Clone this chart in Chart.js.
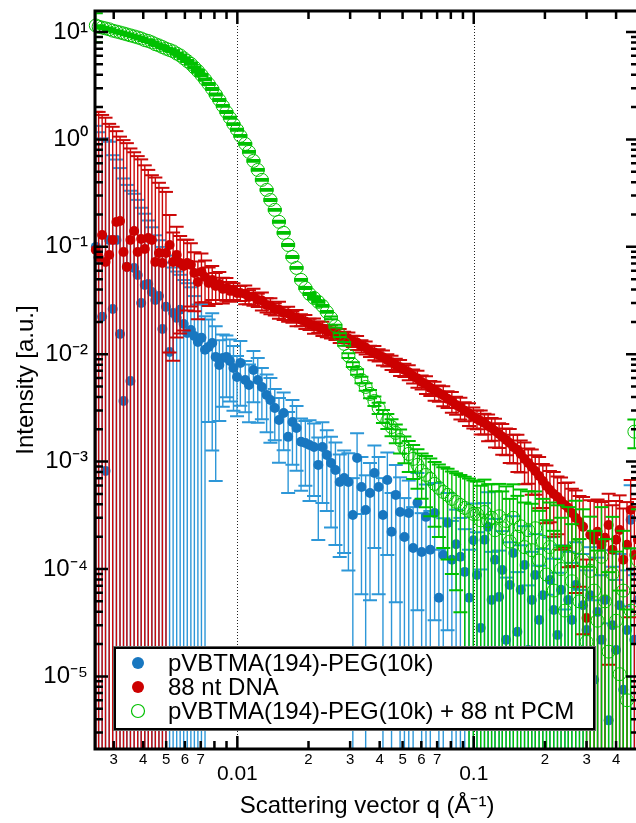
<!DOCTYPE html>
<html><head><meta charset="utf-8">
<script src="https://cdn.jsdelivr.net/npm/chart.js@4"></script>
<style>
html,body{margin:0;padding:0;background:#fff;overflow:hidden;}
#wrap{position:relative;width:636px;height:823px;overflow:hidden;background:#fff;}
canvas{display:block;}
</style></head><body>
<div id="wrap"><canvas id="c" width="650" height="823"></canvas></div>
<script>
// ---------- DATA ----------
const seriesNames = ['pVBTMA(194)-PEG(10k)', '88 nt DNA', 'pVBTMA(194)-PEG(10k) + 88 nt PCM'];

const q = [0.00252,0.00259,0.00268,0.00277,0.00287,0.00297,0.00308,0.00319,0.00330,0.00341,0.00353,0.00366,0.00379,0.00392,0.00406,0.00420,0.00435,0.00450,0.00466,0.00482,0.00499,0.00517,0.00535,0.00554,0.00573,0.00593,0.00614,0.00636,0.00658,0.00681,0.00705,0.00730,0.00756,0.00783,0.00810,0.00839,0.00868,0.00899,0.00930,0.00963,0.00997,
0.0103,0.0108,0.0112,0.0117,0.0122,0.0127,0.0133,0.0138,0.0144,0.0150,0.0157,0.0164,0.0171,0.0178,0.0186,0.0194,0.0202,0.0211,0.0220,0.0229,0.0239,0.0249,0.0260,0.0271,0.0283,0.0295,0.0308,0.0321,0.0335,0.0349,0.0364,0.0380,0.0396,0.0413,0.0431,0.0449,0.0468,0.0488,0.0509,0.0531,0.0554,0.0578,0.0602,0.0628,0.0655,0.0683,0.0712,0.0743,0.0775,0.0808,0.0842,0.0878,0.0916,0.0955,0.0996,
0.1032,0.107,0.111,0.115,0.119,0.123,0.128,0.132,0.137,0.142,0.147,0.153,0.158,0.164,0.170,0.176,0.182,0.189,0.196,0.203,0.210,0.218,0.226,0.234,0.243,0.251,0.260,0.270,0.280,0.290,0.300,0.311,0.323,0.334,0.347,0.359,0.372,0.386,0.400,0.414,0.429,0.445,0.461,0.478,0.495];

// pVBTMA(194)-PEG(10k): intensity and relative error
const blueI = [0.0998,0.0788,0.0223,0.00082,0.116,0.0264,0.116,0.01545,0.00367,0.065,0.00564,0.0636,0.0547,0.030,0.0442,0.0451,0.038,0.032,0.0349,0.0172,0.0276,0.0105,0.0242,0.0218,0.0259,0.0191,0.0158,0.0168,0.0148,0.0130,0.0142,0.011,0.0117,0.0127,0.00944,0.00795,0.00924,0.00944,0.00866,0.00746,0.00614,
0.0083,0.00576,0.00518,0.00714,0.00576,0.00496,0.00418,0.00375,0.00316,0.00244,0.00284,0.0017,0.00234,0.00206,0.00153,0.00149,0.00143,0.00137,0.000932,0.00137,0.001155,0.000973,0.000837,0.000647,0.000705,0.000647,0.000319,0.001083,0.000581,0.000355,0.000511,0.000785,0.000581,0.000319,0.000675,0.000222,0.00049,0.00034,0.000199,0.000333,0.000157,0.000413,0.000144,0.000306,0.000151,0.000333,5.4e-5,0.000135,0.000269,0.000122,0.00017,0.00013,9.4e-5,5.4e-5,0.000185,
8.8e-5,2.83e-5,1.87e-4,2.47e-4,5.16e-5,1.22e-4,5.5e-5,9.8e-5,2.19e-5,7.1e-5,1.41e-4,2.6e-5,6.4e-5,1.09e-4,1.76e-5,5.16e-5,8.8e-5,3.36e-5,5.7e-5,1.28e-5,7.9e-5,4.16e-5,2.43e-5,6.4e-5,6.0e-6,5.16e-5,3.36e-5,7.1e-5,1.42e-5,4.6e-5,2.7e-5,5.7e-5,9.3e-6,3.99e-5,2.19e-5,5.16e-5,3.9e-6,3.0e-5,1.76e-5,4.6e-5,7.5e-6,2.7e-5,2.87e-4,2.19e-5,5.16e-5];
const blueErr = [12.4,13.8,45,1200,7.2,26,4.6,34,117,4.8,58,3.9,4.0,6.7,3.6,2.9,3.0,3.0,2.3,4.8,2.0,5.8,1.65,1.7,1.12,1.57,1.9,1.5,1.35,1.23,1.06,1.05,0.8,0.9,0.93,0.7,0.65,0.58,0.58,0.6,0.57,
0.6,0.5,0.55,0.5,0.6,0.5,0.55,0.6,0.5,0.6,0.55,0.7,0.6,0.6,0.65,0.6,0.7,0.65,0.8,0.7,0.7,0.75,0.8,0.8,0.8,0.85,1.2,0.7,0.9,1.1,0.9,0.8,0.9,1.2,0.8,1.3,0.9,1.1,1.3,1.0,1.4,0.9,1.3,1.0,1.3,0.9,1.8,1.2,0.9,1.3,1.1,1.3,1.5,1.8,1.2,
1.5,2.5,1.2,1.1,1.8,1.4,1.7,1.3,2.8,1.5,1.2,2.6,1.6,1.3,3.0,1.8,1.4,2.2,1.7,3.5,1.5,2.0,2.8,1.6,6.0,1.8,2.4,1.5,3.5,2.0,2.6,1.8,4.5,2.2,3.0,1.9,7.0,2.5,3.5,2.0,5.0,2.6,1.1,3.0,2.0];

// 88 nt DNA
const redI = [0.0936,0.0805,0.129,0.0724,0.0841,0.116,0.1705,0.174,0.0896,0.065,0.116,0.1406,0.0896,0.1185,0.0956,0.121,0.116,0.0724,0.0877,0.0708,0.0877,0.104,0.0724,0.0841,0.0708,0.0664,0.0708,0.0679,0.0571,0.0471,0.0584,0.0524,0.0461,0.0492,0.0432,0.0451,0.0406,0.0414,0.0389,0.0389,0.0372,
0.0372,0.0364,0.0342,0.0345,0.0320,0.0316,0.0288,0.0284,0.0264,0.0261,0.0242,0.0239,0.0223,0.0220,0.0209,0.0202,0.0191,0.0185,0.01796,0.0174,0.0165,0.0163,0.01545,0.01495,0.01449,0.01400,0.0133,0.01285,0.01195,0.01155,0.01073,0.01035,0.00985,0.00935,0.00885,0.0084,0.00795,0.00755,0.00714,0.0068,0.00628,0.00595,0.00552,0.00525,0.00486,0.00462,0.00436,0.00415,0.00384,0.00365,0.00337,0.0032,0.00297,0.00282,0.00261,
0.0025,0.00239,0.00229,0.00215,0.00206,0.00193,0.00181,0.0017,0.00159,0.00149,0.00137,0.00129,0.00118,0.00106,0.000973,0.000893,0.000819,0.000736,0.000661,0.000594,0.000545,0.0005,0.000469,0.000431,0.000395,0.000371,0.000333,0.000299,0.000274,0.000247,3.5e-5,0.000208,0.000187,0.000222,0.000168,0.000195,0.000257,0.000151,0.000187,0.000231,0.000122,0.000168,0.000355,0.000135,0.000187];
const redErr = [18.3,21.4,12.1,21,15.6,10.3,6.0,5.1,10,13.2,6.1,4.4,6.8,4.5,5.0,3.3,3.0,5.1,3.5,4.0,2.7,0.9,0.88,0.83,0.78,0.75,0.64,0.59,0.56,0.55,0.48,0.42,0.39,0.35,0.32,0.29,0.27,0.24,0.21,0.18,0.16,
0.16,0.2,0.15,0.18,0.14,0.19,0.15,0.17,0.13,0.18,0.14,0.16,0.12,0.17,0.13,0.15,0.12,0.16,0.12,0.15,0.13,0.14,0.12,0.15,0.12,0.14,0.12,0.15,0.13,0.14,0.12,0.15,0.13,0.16,0.13,0.15,0.14,0.17,0.14,0.16,0.15,0.18,0.15,0.19,0.16,0.2,0.17,0.21,0.18,0.22,0.19,0.23,0.2,0.24,0.22,
0.2,0.25,0.22,0.28,0.24,0.3,0.26,0.32,0.28,0.35,0.3,0.38,0.33,0.42,0.36,0.45,0.4,0.5,0.44,0.55,0.5,0.6,0.55,0.65,0.6,0.72,0.68,0.8,0.75,0.9,2.5,1.1,1.3,1.0,1.5,1.2,0.95,1.6,1.3,1.1,2.0,1.5,0.9,1.8,1.4];

// pVBTMA(194)-PEG(10k) + 88 nt PCM
const greenI = [11.5,11.2,11.0,10.8,10.6,10.3,10.1,9.9,9.7,9.5,9.3,9.1,8.9,8.7,8.4,8.25,8.0,7.7,7.5,7.25,7.0,6.8,6.6,6.3,6.05,5.7,5.37,5.05,4.68,4.34,3.98,3.62,3.28,2.95,2.62,2.33,2.05,1.8,1.59,1.39,1.23,
1.08,0.908,0.765,0.631,0.52,0.42,0.339,0.273,0.221,0.171,0.135,0.104,0.0805,0.0636,0.0492,0.0414,0.0364,0.0334,0.0307,0.0282,0.0248,0.0218,0.0183,0.0151,0.0125,0.0097,0.0080,0.00684,0.00576,0.00496,0.00427,0.00367,0.00316,0.00266,0.00239,0.0021,0.00185,0.00159,0.00134,0.00118,0.00106,0.000932,0.000819,0.000752,0.00069,0.00062,0.000569,0.000522,0.00049,0.00045,0.000422,0.000395,0.000371,0.000348,0.000326,
3.26e-4,2.84e-4,3.4e-4,2.8e-4,3.0e-4,2.3e-4,3.1e-4,2.4e-4,2.8e-4,1.8e-4,3.0e-4,2.0e-4,2.5e-4,1.6e-4,2.3e-4,1.5e-4,2.4e-4,1.2e-4,1.8e-4,8.9e-5,1.6e-4,6.3e-5,1.4e-4,1.0e-4,4.1e-5,1.3e-4,7.7e-5,1.6e-4,5.0e-5,1.2e-4,2.1e-5,9.6e-5,6.3e-5,3.3e-5,1.3e-4,5.0e-5,1.7e-5,9.0e-5,3.3e-5,1.05e-5,6.3e-5,6.0e-6,4.1e-5,1.9e-3,1.2e-4];
const greenErr = [0.3,0.03,0.02,0.02,0.02,0.02,0.02,0.02,0.02,0.02,0.02,0.02,0.02,0.02,0.02,0.02,0.02,0.02,0.02,0.02,0.02,0.02,0.02,0.02,0.02,0.02,0.02,0.02,0.02,0.02,0.02,0.02,0.02,0.02,0.02,0.02,0.02,0.02,0.02,0.02,0.02,
0.02,0.02,0.02,0.02,0.02,0.02,0.02,0.02,0.02,0.02,0.02,0.02,0.02,0.02,0.02,0.02,0.02,0.02,0.02,0.02,0.02,0.03,0.03,0.04,0.04,0.05,0.05,0.06,0.07,0.08,0.09,0.1,0.12,0.14,0.16,0.18,0.2,0.25,0.28,0.32,0.35,0.4,0.45,0.5,0.55,0.6,0.65,0.7,0.75,0.8,0.85,0.9,0.95,1.0,1.05,
1.0,1.1,1.0,1.2,1.05,1.3,1.0,1.2,1.1,1.5,1.05,1.4,1.2,1.6,1.3,1.7,1.2,1.9,1.5,2.2,1.6,2.6,1.8,2.0,3.0,1.9,2.4,1.7,2.8,2.0,4.0,2.2,2.6,3.5,1.9,2.8,4.5,2.4,3.4,5.0,2.6,6.0,2.8,0.3,2.0];

// axes
const xTickValues = [0.003,0.004,0.005,0.006,0.007,0.01,0.02,0.03,0.04,0.05,0.06,0.07,0.1,0.2,0.3,0.4];
const xTickLabels = ['3','4','5','6','7','0.01','2','3','4','5','6','7','0.1','2','3','4'];
const xMajorValues = [0.01, 0.1];
const yTickValues = [1e-5,1e-4,1e-3,1e-2,1e-1,1,10];
const yTickLabels = ['10\u207B\u2075','10\u207B\u2074','10\u207B\u00B3','10\u207B\u00B2','10\u207B\u00B9','10\u2070','10\u00B9'];
const xTitle = 'Scattering vector q (\u00C5\u207B\u00B9)';
const yTitle = 'Intensity [a.u.]';

// ---------- STYLE ----------
const FONT = '"Liberation Sans", Arial, Helvetica, sans-serif';
const BLUE = '#1877c0', BLUE_ERR = '#2d97d8';
const RED = '#cc0000', RED_ERR = '#cc0808';
const GREEN = '#00c000', GREEN_ERR = '#00c000';

function pts(I, rel) {
  return q.map((x, i) => ({ x: x, y: I[i], e: I[i] * (rel[i] || 0) }));
}

const errorBars = {
  id: 'errorBars',
  beforeDatasetDraw(chart, args) {
    const ds = chart.data.datasets[args.index];
    const { ctx, chartArea: a, scales: { x, y } } = chart;
    ctx.save();
    ctx.beginPath();
    ctx.rect(a.left, a.top, a.right - a.left, a.bottom - a.top);
    ctx.clip();
    ctx.strokeStyle = ds.errColor;
    const cap = 7;
    for (const p of ds.data) {
      const px = x.getPixelForValue(p.x);
      const hi = y.getPixelForValue(p.y + p.e);
      const loV = p.y - p.e;
      const lo = loV > 0 ? y.getPixelForValue(loV) : a.bottom + 10;
      ctx.lineWidth = 1.4;
      ctx.beginPath(); ctx.moveTo(px, hi); ctx.lineTo(px, lo); ctx.stroke();
      ctx.lineWidth = 2;
      ctx.beginPath(); ctx.moveTo(px - cap, hi); ctx.lineTo(px + cap, hi);
      if (loV > 0) { ctx.moveTo(px - cap, lo); ctx.lineTo(px + cap, lo); }
      ctx.stroke();
    }
    ctx.restore();
  }
};

const decor = {
  id: 'decor',
  beforeDatasetsDraw(chart) {
    const { ctx, chartArea: a, scales: { x } } = chart;
    ctx.save();
    ctx.strokeStyle = '#222'; ctx.lineWidth = 1; ctx.setLineDash([1, 2]);
    for (const v of xMajorValues) {
      const px = Math.round(x.getPixelForValue(v)) + 0.5;
      ctx.beginPath(); ctx.moveTo(px, a.top); ctx.lineTo(px, a.bottom); ctx.stroke();
    }
    ctx.restore();
  },
  afterDatasetsDraw(chart) {
    const { ctx, chartArea: a, scales: { x, y } } = chart;
    ctx.save();
    ctx.strokeStyle = '#000';
    ctx.lineWidth = 2.5;
    for (let d = -6; d <= 1; d++) for (let m = 1; m <= 9; m++) {
      const v = m * Math.pow(10, d);
      if (v < y.min || v > y.max) continue;
      const py = y.getPixelForValue(v);
      const len = m === 1 ? 13 : 8;
      ctx.beginPath();
      ctx.moveTo(a.left, py); ctx.lineTo(a.left + len, py);
      ctx.moveTo(a.right, py); ctx.lineTo(a.right - len, py);
      ctx.stroke();
    }
    for (let d = -3; d <= -1; d++) for (let m = 1; m <= 9; m++) {
      const v = m * Math.pow(10, d);
      if (v < x.min || v > x.max) continue;
      const px = x.getPixelForValue(v);
      const len = m === 1 ? 13 : 8;
      ctx.beginPath();
      ctx.moveTo(px, a.bottom); ctx.lineTo(px, a.bottom - len);
      ctx.moveTo(px, a.top); ctx.lineTo(px, a.top + len);
      ctx.stroke();
    }
    ctx.lineWidth = 3;
    ctx.beginPath();
    ctx.moveTo(a.left, a.top); ctx.lineTo(a.right, a.top);
    ctx.moveTo(a.left, a.top - 1.5); ctx.lineTo(a.left, a.bottom + 1.5);
    ctx.moveTo(a.left, a.bottom); ctx.lineTo(a.right, a.bottom);
    ctx.moveTo(a.right, a.top); ctx.lineTo(a.right, a.bottom);
    ctx.stroke();
    ctx.restore();
  },
  afterDraw(chart) {
    const ctx = chart.ctx;
    const bx = 113, by = 646, bw = 483, bh = 85;
    ctx.save();
    ctx.fillStyle = '#fff';
    ctx.fillRect(bx, by, bw, bh);
    ctx.strokeStyle = '#666'; ctx.lineWidth = 1;
    ctx.strokeRect(bx + 0.5, by + 0.5, bw - 1, bh - 1);
    ctx.strokeStyle = '#000'; ctx.lineWidth = 2;
    ctx.strokeRect(bx + 2, by + 2, bw - 4, bh - 4);
    const rows = [663, 687, 711];
    const ds = chart.data.datasets;
    ctx.font = '24px ' + FONT;
    ctx.textBaseline = 'middle';
    ctx.textAlign = 'left';
    rows.forEach((ry, i) => {
      const d = ds[i];
      ctx.beginPath();
      if (d.pointBackgroundColor === 'transparent') {
        ctx.arc(138, ry, 6.5, 0, Math.PI * 2);
        ctx.strokeStyle = d.pointBorderColor; ctx.lineWidth = 1.2; ctx.stroke();
      } else {
        ctx.arc(138, ry, 6, 0, Math.PI * 2);
        ctx.fillStyle = d.pointBackgroundColor; ctx.fill();
      }
      ctx.fillStyle = '#000';
      ctx.fillText(d.label, 168, ry + 1);
    });
    ctx.restore();
  }
};

new Chart(document.getElementById('c'), {
  type: 'scatter',
  data: {
    datasets: [
      { label: seriesNames[0], data: pts(blueI, blueErr), order: 3, errColor: BLUE_ERR,
        pointRadius: 5, pointBackgroundColor: BLUE, pointBorderColor: BLUE, pointBorderWidth: 0, clip: false },
      { label: seriesNames[1], data: pts(redI, redErr), order: 2, errColor: RED_ERR,
        pointRadius: 5, pointBackgroundColor: RED, pointBorderColor: RED, pointBorderWidth: 0, clip: false },
      { label: seriesNames[2], data: pts(greenI, greenErr), order: 1, errColor: GREEN_ERR,
        pointRadius: 6.5, pointBackgroundColor: 'transparent', pointBorderColor: GREEN, pointBorderWidth: 1, clip: false }
    ]
  },
  options: {
    responsive: false,
    animation: false,
    devicePixelRatio: 1,
    events: [],
    layout: { padding: { top: 11, right: 11, left: 0, bottom: 0 } },
    plugins: { legend: { display: false }, tooltip: { enabled: false } },
    scales: {
      x: {
        type: 'logarithmic', position: 'bottom', min: 0.0025, max: 0.5,
        grid: { display: false, drawTicks: false }, border: { display: false },
        afterBuildTicks: s => { s.ticks = xTickValues.map(v => ({ value: v, major: xMajorValues.includes(v) })); },
        afterFit: s => { s.height = 74; s.paddingLeft = 0; s.paddingRight = 0; s.paddingTop = 0; s.paddingBottom = 0; },
        ticks: {
          autoSkip: false, maxRotation: 0, minRotation: 0, padding: 2, color: '#000',
          callback: (v, i) => xTickLabels[i],
          font: ctx => (ctx.tick && ctx.tick.major) ? { family: FONT, size: 21, lineHeight: 2.19 } : { family: FONT, size: 15, lineHeight: 1.2 }
        },
        title: { display: true, text: xTitle, color: '#000', font: { family: FONT, size: 24 }, padding: { top: 0, bottom: 2 } }
      },
      y: {
        type: 'logarithmic', position: 'left', min: 2.11e-6, max: 15.69,
        grid: { display: false, drawTicks: false }, border: { display: false },
        afterBuildTicks: s => { s.ticks = yTickValues.map(v => ({ value: v })); },
        afterFit: s => { s.width = 95; s.paddingTop = 0; s.paddingBottom = 0; s.paddingLeft = 0; s.paddingRight = 0; },
        ticks: { autoSkip: false, padding: 7, color: '#000', font: { family: FONT, size: 24 },
          callback: (v, i) => yTickLabels[i] },
        title: { display: true, text: yTitle, color: '#000', font: { family: FONT, size: 24 }, padding: { top: 12, bottom: 0 } }
      }
    }
  },
  plugins: [errorBars, decor]
});
</script>
</body></html>
